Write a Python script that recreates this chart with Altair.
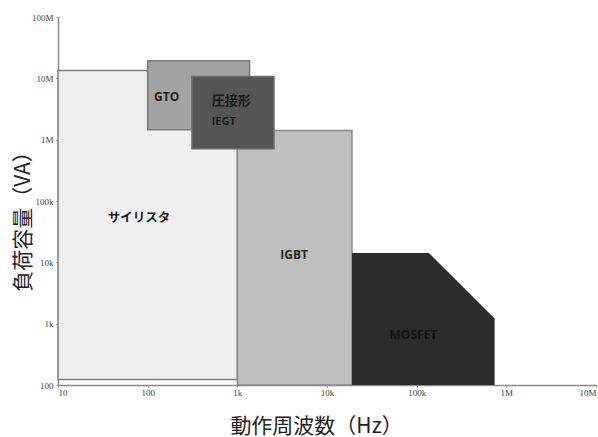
import altair as alt
import pandas as pd

# ---- data ----
dev_names = ["サイリスタ", "IGBT", "GTO", "圧接形IEGT"]
dev_x1 = [10, 1000, 100, 312]
dev_x2 = [1000, 19000, 1370, 2560]
dev_y1 = [123, 100, 1.45e6, 7.1e5]
dev_y2 = [1.34e7, 1.41e6, 1.93e7, 1.07e7]
dev_fill = ["#efefef", "#bfbfbf", "#a3a3a3", "#555555"]
dev_stroke = ["#7f7f7f", "#8a8a8a", "#7a7a7a", "#6a6a6a"]

mos_x = [19000, 137000, 740000]
mos_y = [14200, 14200, 1210]
mos_base = [100, 100, 100]

lab_text = ["GTO", "圧接形", "IEGT", "サイリスタ", "IGBT", "MOSFET"]
lab_x = [163, 517, 517, 80, 4300, 92000]
lab_y = [5.0e6, 4.3e6, 1.96e6, 5.35e4, 1.33e4, 663]
lab_align = ["center", "left", "left", "center", "center", "center"]
lab_color = ["#1e1e1e", "#1a1a1a", "#1a1a1a", "#1e1e1e", "#262626", "#141414"]
lab_size = [12, 13, 11, 12.5, 12, 12]

x_ticks = [10, 100, 1000, 10000, 100000, 1000000, 10000000]
x_tick_labels = ["10", "100", "1k", "10k", "100k", "1M", "10M"]
y_ticks = [100, 1000, 10000, 100000, 1000000, 10000000, 100000000]
y_tick_labels = ["100", "1k", "10k", "100k", "1M", "10M", "100M"]


def label_expr(values, labels):
    expr = "''"
    for v, l in reversed(list(zip(values, labels))):
        expr = f"datum.value == {v} ? '{l}' : ({expr})"
    return expr


xscale = alt.Scale(type="log", domain=[10, 1e7], nice=False)
yscale = alt.Scale(type="log", domain=[100, 1e8], nice=False)

xaxis = alt.Axis(values=x_ticks, labelExpr=label_expr(x_ticks, x_tick_labels),
                 title="動作周波数（Hz）", titleX=258, titleY=41,
                 titleBaseline="middle", titleAlign="center",
                 labelPadding=1, grid=False)
yaxis = alt.Axis(values=y_ticks, labelExpr=label_expr(y_ticks, y_tick_labels),
                 title="負荷容量（VA）", titleX=-35, titleY=199,
                 titleBaseline="middle", titleAlign="center", titleAngle=270,
                 labelPadding=3, grid=False)

dev_df = pd.DataFrame({"name": dev_names, "x1": dev_x1, "x2": dev_x2,
                       "y1": dev_y1, "y2": dev_y2, "fill": dev_fill,
                       "stroke": dev_stroke})
mos_df = pd.DataFrame({"x": mos_x, "y": mos_y, "base": mos_base})
lab_df = pd.DataFrame({"t": lab_text, "x": lab_x, "y": lab_y, "align": lab_align,
                       "c": lab_color, "s": lab_size})

rects = alt.Chart(dev_df).mark_rect(strokeWidth=1.5).encode(
    x=alt.X("x1:Q", scale=xscale, axis=xaxis),
    x2="x2:Q",
    y=alt.Y("y1:Q", scale=yscale, axis=yaxis),
    y2="y2:Q",
    fill=alt.Fill("fill:N", scale=None),
    stroke=alt.Stroke("stroke:N", scale=None),
)

mosfet = alt.Chart(mos_df).mark_area(color="#2c2c2c").encode(
    x=alt.X("x:Q", scale=xscale),
    y=alt.Y("y:Q", scale=yscale),
    y2="base:Q",
)

layers = [rects, mosfet]
for al in ["center", "left"]:
    sub = lab_df[lab_df["align"] == al]
    layers.append(
        alt.Chart(sub).mark_text(
            align=al, baseline="middle", fontWeight="bold",
            font="Open Sans, Noto Sans CJK JP",
        ).encode(
            x=alt.X("x:Q", scale=xscale),
            y=alt.Y("y:Q", scale=yscale),
            text="t:N",
            color=alt.Color("c:N", scale=None),
            size=alt.Size("s:Q", scale=None),
        )
    )

chart = alt.layer(*layers).properties(
    width=538, height=368,
    background="white",
    autosize=alt.AutoSizeParams(type="none"),
    padding={"left": 58, "top": 17, "right": 2, "bottom": 52},
).configure_view(stroke=None).configure_axis(
    labelFont="Liberation Serif", labelFontSize=9, labelColor="#444444",
    domainColor="#8a8a8a", domainWidth=1.5, tickColor="#8a8a8a", tickSize=2,
    titleFont="Noto Sans CJK JP", titleFontSize=21, titleFontWeight="normal",
    titleColor="#222222",
)

chart.save("out.html", embed_options={"renderer": "svg", "actions": False})
